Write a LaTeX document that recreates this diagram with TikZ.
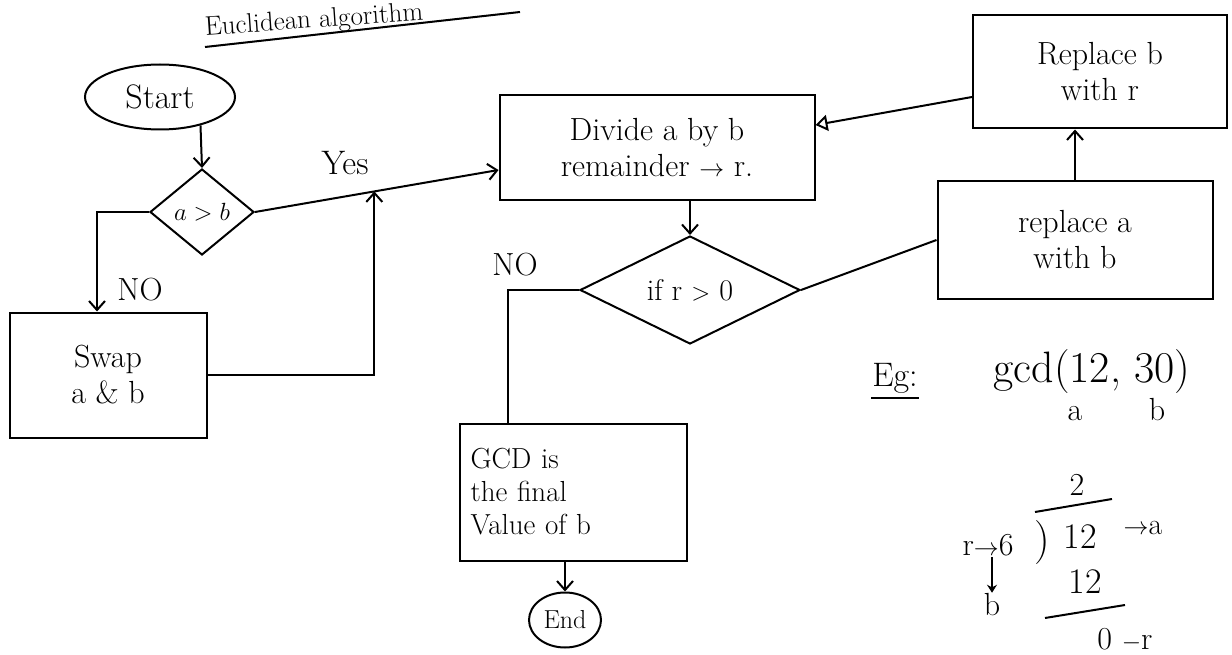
\documentclass[tikz,border=0pt]{standalone}
\usetikzlibrary{shapes.geometric,arrows.meta,calc}
\newcommand{\fs}[1]{\fontsize{#1}{\numexpr #1+4\relax}\selectfont}
\begin{document}
\begin{tikzpicture}[x=1pt,y=-1pt, line width=2pt,
  every node/.style={font=\fs{32}},
  box/.style={draw, rectangle, inner sep=4pt, align=center},
  term/.style={draw, ellipse, inner sep=0pt},
  dec/.style={draw, diamond, inner sep=0pt, align=center},
  arr/.style={-{Straight Barb[length=9pt,width=16pt]}},
  tri/.style={-{Triangle[open,length=12pt,width=16pt]}},
  lbl/.style={inner sep=0pt}]
\useasboundingbox (0,0) rectangle (1232,655);
% title
\node[lbl, anchor=south west, rotate=4, font=\fs{27}] (title) at (205,42) {Euclidean algorithm};
\draw ([yshift=-5pt]title.south west) -- (520,12);
% flowchart nodes
\node[term, minimum width=150pt, minimum height=65pt, font=\fs{34}] (start) at (160,97) {Start};
\node[dec, minimum width=104pt, minimum height=86pt, font=\fs{26}] (d1) at (202,212) {$a>b$};
\node[box, minimum width=197pt, minimum height=125pt] (swap) at (108,375) {Swap\\ a \& b};
\node[box, minimum width=315pt, minimum height=105pt] (divide) at (657,148) {Divide a by b\\ remainder $\rightarrow$ r.};
\node[box, minimum width=254pt, minimum height=113pt] (rb) at (1100,72) {Replace b\\ with r};
\node[box, minimum width=275pt, minimum height=118pt] (ra) at (1075,240) {replace a\\ with b};
\node[dec, minimum width=220pt, minimum height=96pt, font=\fs{30}] (d2) at (690,290) {if r $>$ 0};
\node[box, minimum width=227pt, minimum height=137pt, text width=205pt, align=left, inner sep=8pt, font=\fs{29}] (gcd) at (573,492) {GCD is\\ the final\\ Value of b};
\node[term, minimum width=72pt, minimum height=55pt, font=\fs{26}] (end) at (565,620) {End};
% connectors
\draw[arr] (start.-35) -- (d1.north);
\coordinate (yesend) at ([yshift=-22pt]divide.west);
\draw[arr] (d1.east) -- (yesend);
\coordinate (m) at ($(d1.east)!0.49!(yesend)$);
\node[lbl, font=\fs{34}] (yes) at (345,163) {Yes};
\draw[arr] (swap.east) -| (m);
\draw[arr] (d1.west) -| ([xshift=-11pt]swap.north);
\node[lbl, font=\fs{32}] (no1) at (140,290) {NO};
\draw[arr] (divide.south -| d2.north) -- (d2.north);
\draw (d2.east) -- (ra.west);
\draw[arr] (ra.north) -- (ra.north |- rb.south);
\draw[tri] ([yshift=-25pt]rb.west) -- ([yshift=23pt]divide.east);
\draw (d2.west) -| ([xshift=-65pt]gcd.north);
\node[lbl, font=\fs{32}] (no2) at (515,265) {NO};
\draw[arr] (end.north |- gcd.south) -- (end.north);
% example
\node[lbl, font=\fs{34}] (eg) at (895,378) {Eg:};
\draw ([yshift=-4pt]eg.south west) -- ([yshift=-4pt]eg.south east);
\node[lbl, font=\fs{44}] (gcdex) at (1092,372) {gcd(12, 30)};
\node[lbl, font=\fs{32}] (ea) at (1075,414) {a};
\node[lbl, font=\fs{32}] (eb) at (1157,410) {b};
\node[lbl, font=\fs{32}] (q) at (1077,485) {2};
\node[lbl, font=\fs{32}] (rr) at (988,545) {r$\rightarrow$6};
\node[lbl, font=\fs{44}] (par) at (1042,543) {)};
\node[lbl, font=\fs{36}] (n12) at (1080,537) {12};
\node[lbl, font=\fs{30}] (ta) at (1143,528) {$\rightarrow$a};
\draw (1035,512) -- (1112,499);
\node[lbl, font=\fs{32}] (bb) at (992,605) {b};
\draw[-{Stealth[length=8pt,width=10pt]}] (bb.north |- rr.south) -- (bb.north);
\node[lbl, font=\fs{36}] (n12b) at (1085,582) {12};
\draw (1045,618) -- (1125,605);
\node[lbl, font=\fs{32}] (zr) at (1125,640) {0 $-$r};
\end{tikzpicture}
\end{document}
